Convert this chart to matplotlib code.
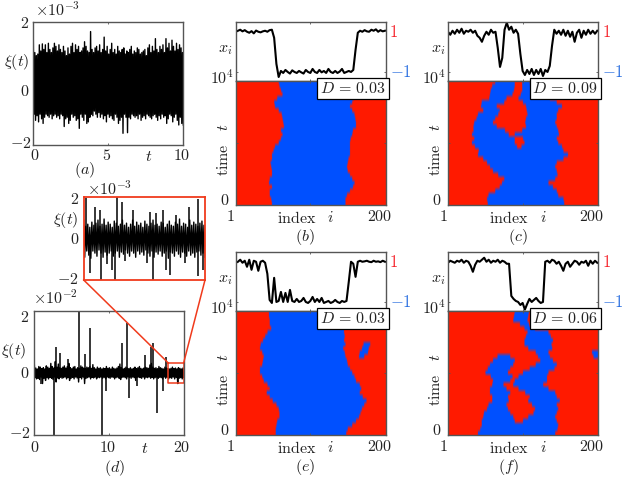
import numpy as np
import matplotlib

matplotlib.use("Agg")
import matplotlib.pyplot as plt

plt.rcParams["mathtext.fontset"] = "cm"
plt.rcParams["font.family"] = "cmr10"
plt.rcParams["axes.formatter.use_mathtext"] = True

W, H = 623, 478
GRAY = "#555555"
RED = "#f03a1c"

# panel (a), envelope of the noise in units of 1e-3
a_upper = [1.46, 1.0, 0.9, 0.95, 1.25, 1.05, 1.28, 1.1, 1.25, 1.0, 1.3, 1.1, 1.0, 1.15, 1.3, 1.2, 1.05, 1.25, 1.1, 1.0,
           1.2, 1.05, 0.9, 1.15, 0.95, 1.2, 1.3, 1.0, 1.25, 1.1, 1.2, 1.0, 1.05, 1.15, 1.35, 1.2, 1.05, 1.0, 1.68, 1.1,
           1.0, 1.15, 1.2, 1.05, 1.25, 1.0, 1.1, 1.5, 1.05, 1.2, 0.95, 1.1, 1.3, 1.0, 1.1, 0.95, 1.2, 1.05, 1.0, 1.1,
           1.15, 0.95, 1.05, 1.0, 1.1, 1.2, 0.95, 1.05, 1.0, 1.15, 1.1, 0.95, 1.0, 1.05, 1.1, 0.9, 1.15, 1.25, 1.0, 1.2,
           1.05, 1.45, 1.1, 1.0, 1.2, 1.1, 1.25, 1.0, 1.45, 1.15, 1.3, 1.05, 1.4, 1.2, 1.05, 1.3, 1.1, 1.25, 1.15, 1.0]
a_lower = [-1.0, -1.2, -1.05, -1.25, -1.0, -1.15, -1.3, -1.1, -1.0, -1.05, -1.1, -1.0, -1.15, -1.05, -1.0, -1.1, -1.05,
           -1.15, -1.0, -1.05, -1.4, -1.15, -1.1, -1.3, -1.2, -1.0, -1.1, -1.05, -1.2, -1.15, -1.46, -1.0, -1.1, -1.2,
           -1.0, -1.3, -1.25, -1.1, -1.0, -1.05, -0.9, -1.0, -1.1, -0.95, -1.1, -1.0, -1.15, -1.05, -1.25, -1.0, -1.1,
           -1.05, -1.15, -1.2, -1.0, -1.1, -1.3, -1.2, -1.1, -1.62, -1.0, -1.1, -1.6, -1.1, -1.15, -1.0, -1.05, -1.1,
           -1.05, -1.15, -1.0, -1.2, -1.1, -1.05, -1.15, -1.0, -1.05, -1.1, -1.15, -1.05, -1.0, -1.1, -1.2, -1.05,
           -1.15, -1.0, -1.1, -1.05, -1.3, -1.15, -1.0, -1.05, -1.25, -1.1, -1.0, -1.2, -1.35, -1.1, -1.3, -1.35]

# inset, units of 1e-3
inset_upper = [0.9, 0.6, 0.7, 0.55, 0.8, 0.65, 0.75, 0.9, 0.6, 0.7, 0.95, 0.65, 0.8, 0.7, 0.55, 0.85, 0.75, 0.6, 0.7, 0.9,
               0.65, 0.75, 0.55, 0.7, 0.9, 0.6, 0.8, 0.65, 0.75, 0.55, 0.85, 0.7, 0.6, 0.75, 0.9, 0.65, 0.7, 0.6, 0.8, 0.75,
               0.55, 0.7, 0.85, 0.65, 0.6, 0.8, 0.7, 0.95, 0.6, 0.75, 0.7, 0.55, 0.9, 0.65, 0.8, 0.7, 0.6, 0.75, 0.85, 0.65]
inset_lower = [-0.9, -0.6, -0.8, -0.95, -0.6, -0.7, -0.85, -0.55, -0.7, -0.9, -0.65, -0.8, -0.7, -0.6, -0.85, -0.7, -0.6,
               -0.9, -0.65, -0.75, -0.55, -0.7, -0.85, -0.6, -0.7, -0.9, -0.6, -0.75, -0.65, -0.8, -0.55, -0.7, -0.85, -0.6,
               -0.9, -0.65, -0.75, -0.6, -0.85, -0.7, -0.6, -0.95, -0.65, -0.7, -0.85, -0.6, -0.75, -0.9, -0.65, -0.7, -0.85,
               -0.6, -0.8, -0.7, -0.9, -0.65, -0.6, -0.8, -0.7, -0.9]
inset_spike_t = [18.04, 18.19, 18.27, 18.55, 18.63, 18.82, 19.09, 19.2, 19.31, 19.52, 19.73, 19.88, 18.11, 18.28, 18.51, 18.46,
                 18.38, 18.68, 19.14, 19.05, 19.36, 19.43, 19.67, 19.88, 19.96]
inset_spike_y = [1.95, 1.54, 1.38, 2.0, 1.79, 1.38, 1.3, 1.22, 1.38, 1.14, 1.51, 1.92, -1.67, -2.0, -2.0, -1.5, -1.25, -1.1,
                 -2.0, -1.2, -1.5, -1.75, -1.2, -1.8, -1.5]

# panel (d), units of 1e-2
d_upper = [0.28, 0.15, 0.12, 0.2, 0.18, 0.13, 0.16, 0.12, 0.22, 0.18, 0.14, 0.3, 0.2, 0.15, 0.36, 0.18, 0.28, 0.16, 0.14,
           0.18, 0.22, 0.15, 0.2, 0.3, 0.16, 0.13, 0.18, 0.2, 0.12, 0.16, 0.14, 0.22, 0.18, 0.15, 0.13, 0.18, 0.16, 0.2,
           0.14, 0.26, 0.16, 0.12, 0.18, 0.14, 0.16, 0.12, 0.15, 0.13, 0.2, 0.14, 0.16, 0.12, 0.18, 0.14, 0.12, 0.15, 0.2,
           0.28, 0.16, 0.12, 0.14, 0.18, 0.15, 0.13, 0.16, 0.12, 0.14, 0.18, 0.13, 0.16, 0.2, 0.14, 0.12, 0.15, 0.18, 0.16,
           0.14, 0.25, 0.3, 0.18, 0.14, 0.16, 0.13, 0.2, 0.16, 0.14, 0.12, 0.18, 0.15, 0.13, 0.12, 0.14, 0.18, 0.13, 0.15,
           0.12, 0.16, 0.14, 0.12, 0.15]
d_lower = [-0.16, -0.2, -0.18, -0.22, -0.14, -0.35, -0.18, -0.25, -0.16, -0.2, -0.15, -0.18, -0.22, -0.14, -0.3, -0.17, -0.2,
           -0.15, -0.18, -0.16, -0.14, -0.2, -0.16, -0.25, -0.18, -0.15, -0.2, -0.14, -0.17, -0.3, -0.15, -0.2, -0.14,
           -0.35, -0.18, -0.16, -0.14, -0.2, -0.15, -0.17, -0.14, -0.2, -0.15, -0.16, -0.14, -0.18, -0.15, -0.2, -0.14,
           -0.16, -0.18, -0.14, -0.15, -0.2, -0.16, -0.14, -0.18, -0.22, -0.15, -0.14, -0.16, -0.2, -0.14, -0.15, -0.18,
           -0.14, -0.16, -0.25, -0.15, -0.14, -0.16, -0.18, -0.14, -0.2, -0.15, -0.16, -0.14, -0.18, -0.15, -0.2, -0.16,
           -0.14, -0.18, -0.15, -0.16, -0.2, -0.14, -0.18, -0.15, -0.2, -0.16, -0.18, -0.14, -0.2, -0.15, -0.35, -0.18,
           -0.16, -0.2, -0.15]
d_spike_t = [2.9, 3.4, 4.45, 6.0, 6.8, 7.45, 11.8, 12.4, 14.8, 15.6, 15.9, 17.6, 2.7, 9.0, 12.7, 16.4, 9.6, 13.8, 17.2, 19.2, 0.85]
d_spike_y = [0.82, 0.65, 0.43, 2.0, 0.6, 1.45, 0.97, 1.6, 0.57, 0.84, 0.97, 0.52, -2.0, -2.0, -0.83, -1.29, -0.58, -0.43, -0.58,
             -0.35, -0.35]

# top strips x_i, read every 3 indices
b_x = [1.0, 1.05, 1.1, 1.02, 1.08, 1.0, 0.95, 1.03, 0.92, 1.06, 1.0, 0.97, 1.02, 1.05, 1.0, 1.08, 1.1, 0.7, -0.6, -1.25, -0.95,
       -1.05, -0.9, -1.0, -1.08, -0.92, -1.0, -1.05, -0.95, -1.02, -1.08, -0.9, -1.0, -1.05, -0.85, -1.0, -1.05, -0.9, -1.02,
       -0.95, -1.05, -0.85, -1.0, -1.05, -0.95, -1.05, -0.98, -0.85, -1.05, -1.0, -0.95, -1.0, -0.9, 0.1, 0.95, 1.05, 1.0,
       1.08, 1.02, 1.0, 1.1, 1.05, 1.12, 1.0, 1.08, 1.02, 1.05]
c_x = [1.0, 0.85, 1.05, 0.9, 1.1, 0.95, 1.15, 0.9, 1.05, 1.0, 1.1, 0.95, 1.05, 0.8, 0.7, 0.5, 0.8, 1.0, 0.85, 1.1, 0.95, 1.0,
       0.2, -0.75, -0.3, 1.1, 1.45, 1.1, 1.25, 0.95, 1.1, 0.9, -0.1, -0.95, -1.15, -0.9, -1.1, -0.85, -1.15, -0.9, -1.1, -0.85,
       -1.2, -0.9, -1.0, -0.7, 0.3, 1.1, 0.9, 1.05, 0.85, 1.1, 0.8, 1.05, 0.75, 1.0, 0.5, 0.95, 1.1, 0.7, 1.05, 0.85, 1.1, 0.9,
       1.05, 0.9, 1.05]
e_x = [0.95, 1.0, 1.1, 0.95, 1.05, 0.75, 1.1, 0.6, 1.05, 1.0, 0.55, 1.0, 1.05, 0.95, 0.4, -0.9, -1.05, 0.2, -1.0, -0.95, -0.5,
       -1.0, -0.55, -1.0, -0.4, -0.95, -1.0, -0.85, -1.0, -0.95, -0.8, -1.0, -1.05, -0.95, -0.75, -1.0, -0.85, -1.0, -0.8, -1.05,
       -1.0, -0.95, -1.05, -1.0, -0.9, -1.0, -1.05, -0.95, -1.0, -0.95, 0.0, 1.0, 0.9, 0.25, 1.0, 1.05, 1.0, 1.02, 1.05, 1.0,
       0.98, 1.05, 1.0, 1.02, 0.98, 1.05, 1.0]
f_x = [0.95, 1.05, 1.0, 0.95, 1.05, 1.0, 1.1, 0.95, 1.05, 1.0, 0.8, 0.5, 0.85, 1.05, 1.0, 1.1, 1.2, 1.0, 1.1, 0.95, 1.05, 1.0,
       1.1, 0.95, 1.05, 1.0, 0.9, 0.9, -0.7, -0.85, -0.95, -1.0, -1.15, -1.05, -1.38, -1.1, -0.85, -1.0, -0.9, -0.8, -0.95, -1.05,
       -1.0, 1.0, 1.05, 0.95, 1.1, 1.05, 0.9, 1.0, 0.8, 0.55, 0.9, 1.0, 0.75, 0.9, 1.05, 1.0, 0.85, 1.0, 0.95, 1.05, 0.8, 1.05, 0.9,
       1.05, 0.95]

# domain boundaries per row, top row first: sign starts +1 and flips at each index
b_left = [58, 59, 61, 63, 56, 52, 53, 58, 62, 63, 64, 65, 61, 63, 61, 58, 53, 51, 49, 49, 47, 48, 49, 49, 46, 45, 49, 46, 46, 48, 49]
b_right = [160, 160, 160, 159, 158, 156, 153, 156, 159, 160, 161, 161, 157, 156, 154, 153, 153, 153, 153, 151, 150, 149, 150, 153,
           156, 159, 157, 153, 149, 147, 147]
b_rows = [[p, q] for p, q in zip(b_left, b_right)]
c_rows = [[64, 90, 100, 110], [60, 90, 100, 113], [58, 89, 100, 132], [57, 87, 98, 135], [56, 79, 95, 137], [46, 76, 101, 146],
          [45, 66, 105, 153], [48, 70, 106, 148], [41, 68, 107, 146], [39, 64, 105, 146], [36, 61, 104, 144], [35, 66, 105, 146],
          [35, 77, 100, 148], [33, 82, 90, 149], [36, 90, 101, 146], [33, 90, 103, 148], [37, 93, 99, 153], [42, 155], [41, 161],
          [48, 155], [53, 146], [57, 144], [61, 146], [68, 147], [76, 144], [73, 135], [70, 141], [64, 146], [55, 148], [53, 155],
          [54, 156]]
e_left = [45, 45, 46, 46, 48, 43, 40, 37, 34, 33, 36, 38, 37, 36, 33, 33, 36, 38, 43, 46, 42, 46, 50, 55, 58, 59, 59, 56, 55, 54, 54]
e_right = [144, 144, 145, 146, 145, 145, 146, 145, 147, 144, 146, 147, 149, 150, 153, 156, 159, 161, 166, 168, 166, 170, 175, 172,
           169, 167, 165, 161, 156, 150, 148]
e_rows = [[p, q] for p, q in zip(e_left, e_right)]
e_rows[8] += [171, 180]
e_rows[9] += [169, 178]
e_rows[10] += [166, 177]
e_rows[11] += [165, 172]
f_rows = [[90, 109], [89, 108], [88, 107], [97, 109], [103, 117], [107, 135], [105, 138], [103, 141], [103, 139], [108, 140],
          [118, 135, 193, 202], [67, 84, 121, 137, 195, 202], [61, 90, 124, 141], [57, 88, 118, 146], [54, 84, 110, 143],
          [51, 81, 101, 135], [58, 87, 95, 133], [61, 84, 90, 133], [60, 75, 88, 128], [57, 79, 95, 135], [57, 84, 104, 144],
          [60, 81, 110, 146], [60, 82, 108, 150], [55, 79, 113, 146], [53, 81, 117, 148], [49, 84, 115, 146], [48, 88, 108, 144],
          [46, 90, 101, 146], [46, 148], [44, 147], [41, 144]]

D_labels = ["0.03", "0.09", "0.03", "0.06"]


def px_axes(fig, left, top, right, bottom):
    return fig.add_axes([left / W, 1 - bottom / H, (right - left) / W, (bottom - top) / H])


def label(fig, x, y, s, size=11.5, color="#222222", **kw):
    fig.text(x / W, 1 - y / H, s, fontsize=size, color=color, ha="center", va="center", **kw)


def style(ax, color=GRAY, width=1.0):
    for sp in ax.spines.values():
        sp.set_color(color)
        sp.set_linewidth(width)
    ax.tick_params(direction="in", length=1.5, width=0.6, color=GRAY, labelleft=False, labelbottom=False,
                   top=True, right=True)


def zigzag(upper, lower):
    y = np.empty(len(upper) * 2)
    y[0::2] = upper
    y[1::2] = lower
    return y


def field(rows):
    # one row per list of boundaries, 200 columns
    out = np.ones((len(rows), 200))
    idx = np.arange(1, 201)
    for r, flips in enumerate(rows):
        for p in flips:
            out[r, idx >= p] *= -1
    return out


fig = plt.figure(figsize=(W / 100, H / 100), dpi=100)

# (a)
ax = px_axes(fig, 33.3, 21.7, 183.3, 145)
ax.plot(np.linspace(0, 10, 200), zigzag(a_upper, a_lower), color="black", lw=1.0)
ax.set_xlim(0, 10)
ax.set_ylim(-2, 2)
ax.set_xticks([0, 5, 10])
ax.set_yticks([-2, 0, 2])
style(ax)
label(fig, 57, 9, r"$\times 10^{-3}$")
label(fig, 25, 24, r"$2$")
label(fig, 25, 92, r"$0$")
label(fig, 21, 144, r"$-2$")
label(fig, 17, 62, r"$\xi(t)$")
label(fig, 35, 155, r"$0$")
label(fig, 107, 155, r"$5$")
label(fig, 149, 157, r"$t$")
label(fig, 182, 155, r"$10$")
label(fig, 85, 170, r"$(a)$")

# (d)
ax = px_axes(fig, 34.3, 310.7, 183.7, 434.7)
ax.plot(np.linspace(0, 20, 200), zigzag(d_upper, d_lower), color="black", lw=1.0)
ax.vlines(d_spike_t, 0, d_spike_y, color="black", lw=1.1)
ax.plot([17.9, 20, 20, 17.9, 17.9], [0.32, 0.32, -0.32, -0.32, 0.32], color=RED, lw=1.1, clip_on=False)
ax.set_xlim(0, 20)
ax.set_ylim(-2, 2)
ax.set_xticks([0, 10, 20])
ax.set_yticks([-2, 0, 2])
style(ax)
label(fig, 55, 297, r"$\times 10^{-2}$")
label(fig, 25, 317, r"$2$")
label(fig, 25, 373, r"$0$")
label(fig, 20, 434, r"$-2$")
label(fig, 14, 351, r"$\xi(t)$")
label(fig, 35, 447, r"$0$")
label(fig, 108, 447, r"$10$")
label(fig, 145, 449, r"$t$")
label(fig, 182, 447, r"$20$")
label(fig, 115, 468, r"$(d)$")

# inset of (d)
ax = px_axes(fig, 83.7, 197.3, 205, 280)
ax.plot(np.linspace(18, 20, 120), zigzag(inset_upper, inset_lower), color="black", lw=1.0)
ax.vlines(inset_spike_t, 0, inset_spike_y, color="black", lw=1.1)
ax.set_xlim(18, 20)
ax.set_ylim(-2, 2)
ax.set_xticks([])
ax.set_yticks([])
style(ax, RED, 1.3)
label(fig, 109, 188, r"$\times 10^{-3}$")
label(fig, 75, 199, r"$2$")
label(fig, 66, 220, r"$\xi(t)$")
label(fig, 75, 239, r"$0$")
label(fig, 68, 279, r"$-2$")
fig.add_artist(plt.Line2D([83.7 / W, 168 / W], [1 - 280 / H, 1 - 362.7 / H], color=RED, lw=1.1))
fig.add_artist(plt.Line2D([205 / W, 183.7 / W], [1 - 280 / H, 1 - 362.7 / H], color=RED, lw=1.1))

# space-time panels
panels = [
    (235.7, 21.7, b_x, b_rows, r"$(b)$", 305),
    (448, 21.7, c_x, c_rows, r"$(c)$", 518),
    (235.7, 251.7, e_x, e_rows, r"$(e)$", 305),
    (448, 251.7, f_x, f_rows, r"$(f)$", 508),
]
for n, (left, top, xs, rows, name, name_x) in enumerate(panels):
    right = left + 150
    mid = top + 58.9
    bottom = top + 183.3

    strip = px_axes(fig, left, top, right, mid)
    strip.plot(np.linspace(1, 199, len(xs)), xs, color="black", lw=1.5)
    strip.set_xlim(1, 200)
    strip.set_ylim(-1.43, 1.5)
    strip.set_xticks([100])
    strip.set_yticks([-1])
    style(strip)

    hm = px_axes(fig, left, mid, right, bottom)
    hm.imshow(field(rows), cmap="jet", vmin=-1.6, vmax=1.35, aspect="auto", interpolation="bilinear",
              extent=(1, 200, 0, 10000), origin="upper")
    hm.set_xticks([100])
    hm.set_yticks([5000])
    style(hm)

    hm.text(0.9995, 0.9995, r"$D\,=\," + D_labels[n] + "$", transform=hm.transAxes, ha="right", va="top", fontsize=11.5,
            color="#222222", bbox=dict(boxstyle="square,pad=0.18", fc="white", ec="black", lw=0.9))

    label(fig, left - 10, top + 28, r"$x_i$")
    label(fig, right + 8, top + 10, r"$1$", color="#f5222a", size=12)
    label(fig, right + 15, top + 50, r"$-1$", color="#2a6fe0", size=12)
    label(fig, left - 14, top + 56, r"$10^4$")
    label(fig, left - 12, top + 128, r"$\mathrm{time}\quad t$", rotation=90)
    label(fig, left - 11, top + 179, r"$0$")
    label(fig, left - 5, top + 195, r"$1$")
    label(fig, left + 61, top + 196, r"$\mathrm{index}$")
    label(fig, left + 95, top + 196, r"$i$")
    label(fig, right - 6, top + 195, r"$200$")
    label(fig, name_x, top + 215, name)

fig.savefig("out.png", dpi=100)
